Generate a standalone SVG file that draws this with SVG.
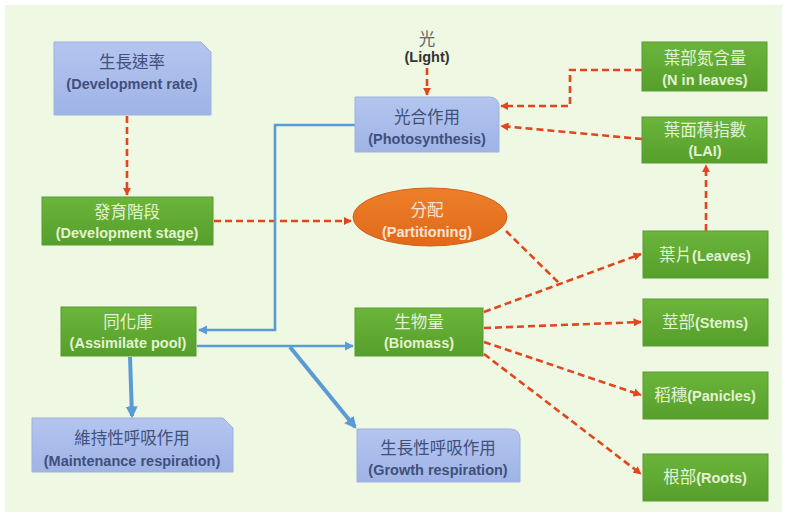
<svg xmlns="http://www.w3.org/2000/svg" width="787" height="517" viewBox="0 0 787 517">
<style>
.zh{font-family:"Noto Sans CJK TC","Noto Sans CJK SC",sans-serif;font-size:16.5px;text-anchor:middle}
.en{font-family:"Liberation Sans",Arial,sans-serif;font-size:14.5px;font-weight:bold;text-anchor:middle}
.g{fill:url(#gg);stroke:#5a9a35;stroke-width:1}
.b{fill:url(#bg);stroke:#9fb2df;stroke-width:1}
.gt{fill:#e3f2d2}
.bt{fill:#41507a}
.red{fill:none;stroke:#e2461f;stroke-width:2.6;stroke-dasharray:7 4}
.blue{fill:none;stroke:#5b9bd5;stroke-width:2.6}
.bluet{fill:none;stroke:#5b9bd5;stroke-width:4}
</style>
<defs>
<linearGradient id="gg" x1="0" y1="0" x2="0" y2="1"><stop offset="0" stop-color="#6cb53c"/><stop offset="1" stop-color="#559f2b"/></linearGradient>
<linearGradient id="bg" x1="0" y1="0" x2="0" y2="1"><stop offset="0" stop-color="#b4c5ef"/><stop offset="1" stop-color="#9fb3e6"/></linearGradient>
<linearGradient id="og" x1="0" y1="0" x2="0" y2="1"><stop offset="0" stop-color="#ee7f2a"/><stop offset="1" stop-color="#e0691a"/></linearGradient>
<marker id="ar" viewBox="0 0 10 10" refX="9" refY="5" markerWidth="3.2" markerHeight="3.2" orient="auto"><path d="M0,0L10,5L0,10z" fill="#e2461f"/></marker>
<marker id="ab" viewBox="0 0 10 10" refX="9" refY="5" markerWidth="3.5" markerHeight="3.5" orient="auto"><path d="M0,0L10,5L0,10z" fill="#5b9bd5"/></marker>
<marker id="abt" viewBox="0 0 10 10" refX="8" refY="5" markerWidth="3" markerHeight="3" orient="auto"><path d="M0,0L10,5L0,10z" fill="#5b9bd5"/></marker>
</defs>
<rect width="787" height="517" fill="#ffffff"/>
<rect x="5" y="5" width="777" height="507" fill="#eef8e2"/>

<g id="connectors">
<line class="red" x1="127" y1="116" x2="127" y2="195" marker-end="url(#ar)"/>
<line class="red" x1="427" y1="68" x2="427" y2="95" marker-end="url(#ar)"/>
<polyline class="red" points="642,70 570,70 570,106 501,106" marker-end="url(#ar)"/>
<line class="red" x1="642" y1="139" x2="501" y2="126" marker-end="url(#ar)"/>
<line class="red" x1="706" y1="231" x2="706" y2="165" marker-end="url(#ar)"/>
<line class="red" x1="214" y1="221" x2="351" y2="221" marker-end="url(#ar)"/>
<line class="red" x1="506" y1="231" x2="560" y2="284"/>
<line class="red" x1="484" y1="312" x2="641" y2="254" marker-end="url(#ar)"/>
<line class="red" x1="484" y1="328" x2="641" y2="322" marker-end="url(#ar)"/>
<line class="red" x1="484" y1="342" x2="641" y2="395" marker-end="url(#ar)"/>
<line class="red" x1="484" y1="354" x2="641" y2="474" marker-end="url(#ar)"/>
<polyline class="blue" points="355,125 275,125 275,330 199,330" marker-end="url(#ab)"/>
<line class="blue" x1="197" y1="346" x2="353" y2="346" marker-end="url(#ab)"/>
<line class="bluet" x1="130" y1="357" x2="132" y2="416" marker-end="url(#abt)"/>
<line class="bluet" x1="290" y1="347" x2="355" y2="427" marker-end="url(#abt)"/>
</g>

<g id="dev-rate">
<path class="b" d="M54,42H201L211,52V115H54Z"/>
<text class="zh bt" x="132" y="68">生長速率</text>
<text class="en bt" x="132" y="89">(Development rate)</text>
</g>

<g id="light">
<text class="zh" x="427" y="45" fill="#666">光</text>
<text class="en" x="427" y="62" fill="#333">(Light)</text>
</g>

<g id="photosynthesis">
<path class="b" d="M355,97H489Q499,97 499,107V152H355Z"/>
<text class="zh bt" x="427" y="123">光合作用</text>
<text class="en bt" x="427" y="144">(Photosynthesis)</text>
</g>

<g id="n-leaves">
<rect class="g" x="642" y="42" width="125" height="49"/>
<text class="zh gt" x="705" y="64">葉部氮含量</text>
<text class="en gt" x="705" y="85">(N in leaves)</text>
</g>

<g id="lai">
<rect class="g" x="642" y="117" width="125" height="46"/>
<text class="zh gt" x="705" y="136">葉面積指數</text>
<text class="en gt" x="705" y="156">(LAI)</text>
</g>

<g id="dev-stage">
<rect class="g" x="42" y="197" width="171" height="48"/>
<text class="zh gt" x="127" y="218">發育階段</text>
<text class="en gt" x="127" y="238">(Development stage)</text>
</g>

<g id="partitioning">
<ellipse cx="430" cy="217" rx="77" ry="29" fill="url(#og)" stroke="#d0601a"/>
<text class="zh" x="427" y="216" fill="#fbe3cf">分配</text>
<text class="en" x="427" y="237" fill="#fbe3cf">(Partitioning)</text>
</g>

<g id="leaves">
<rect class="g" x="643" y="231" width="125" height="47"/>
<text class="zh gt" x="705" y="261">葉片<tspan class="en" style="text-anchor:start">(Leaves)</tspan></text>
</g>

<g id="stems">
<rect class="g" x="643" y="299" width="125" height="47"/>
<text class="zh gt" x="705" y="328">莖部<tspan class="en" style="text-anchor:start">(Stems)</tspan></text>
</g>

<g id="panicles">
<rect class="g" x="643" y="372" width="125" height="47"/>
<text class="zh gt" x="705" y="401">稻穗<tspan class="en" style="text-anchor:start">(Panicles)</tspan></text>
</g>

<g id="roots">
<rect class="g" x="643" y="454" width="125" height="47"/>
<text class="zh gt" x="705" y="483">根部<tspan class="en" style="text-anchor:start">(Roots)</tspan></text>
</g>

<g id="assimilate-pool">
<rect class="g" x="61" y="307" width="135" height="49"/>
<text class="zh gt" x="128" y="328">同化庫</text>
<text class="en gt" x="128" y="348">(Assimilate pool)</text>
</g>

<g id="biomass">
<rect class="g" x="355" y="308" width="128" height="48"/>
<text class="zh gt" x="419" y="328">生物量</text>
<text class="en gt" x="419" y="348">(Biomass)</text>
</g>

<g id="maintenance">
<path class="b" d="M32,418H223L233,428V472H32Z"/>
<text class="zh bt" x="132" y="444">維持性呼吸作用</text>
<text class="en bt" x="132" y="466">(Maintenance respiration)</text>
</g>

<g id="growth">
<path class="b" d="M357,429H510Q520,429 520,439V482H357Z"/>
<text class="zh bt" x="438" y="454">生長性呼吸作用</text>
<text class="en bt" x="438" y="475">(Growth respiration)</text>
</g>
</svg>
